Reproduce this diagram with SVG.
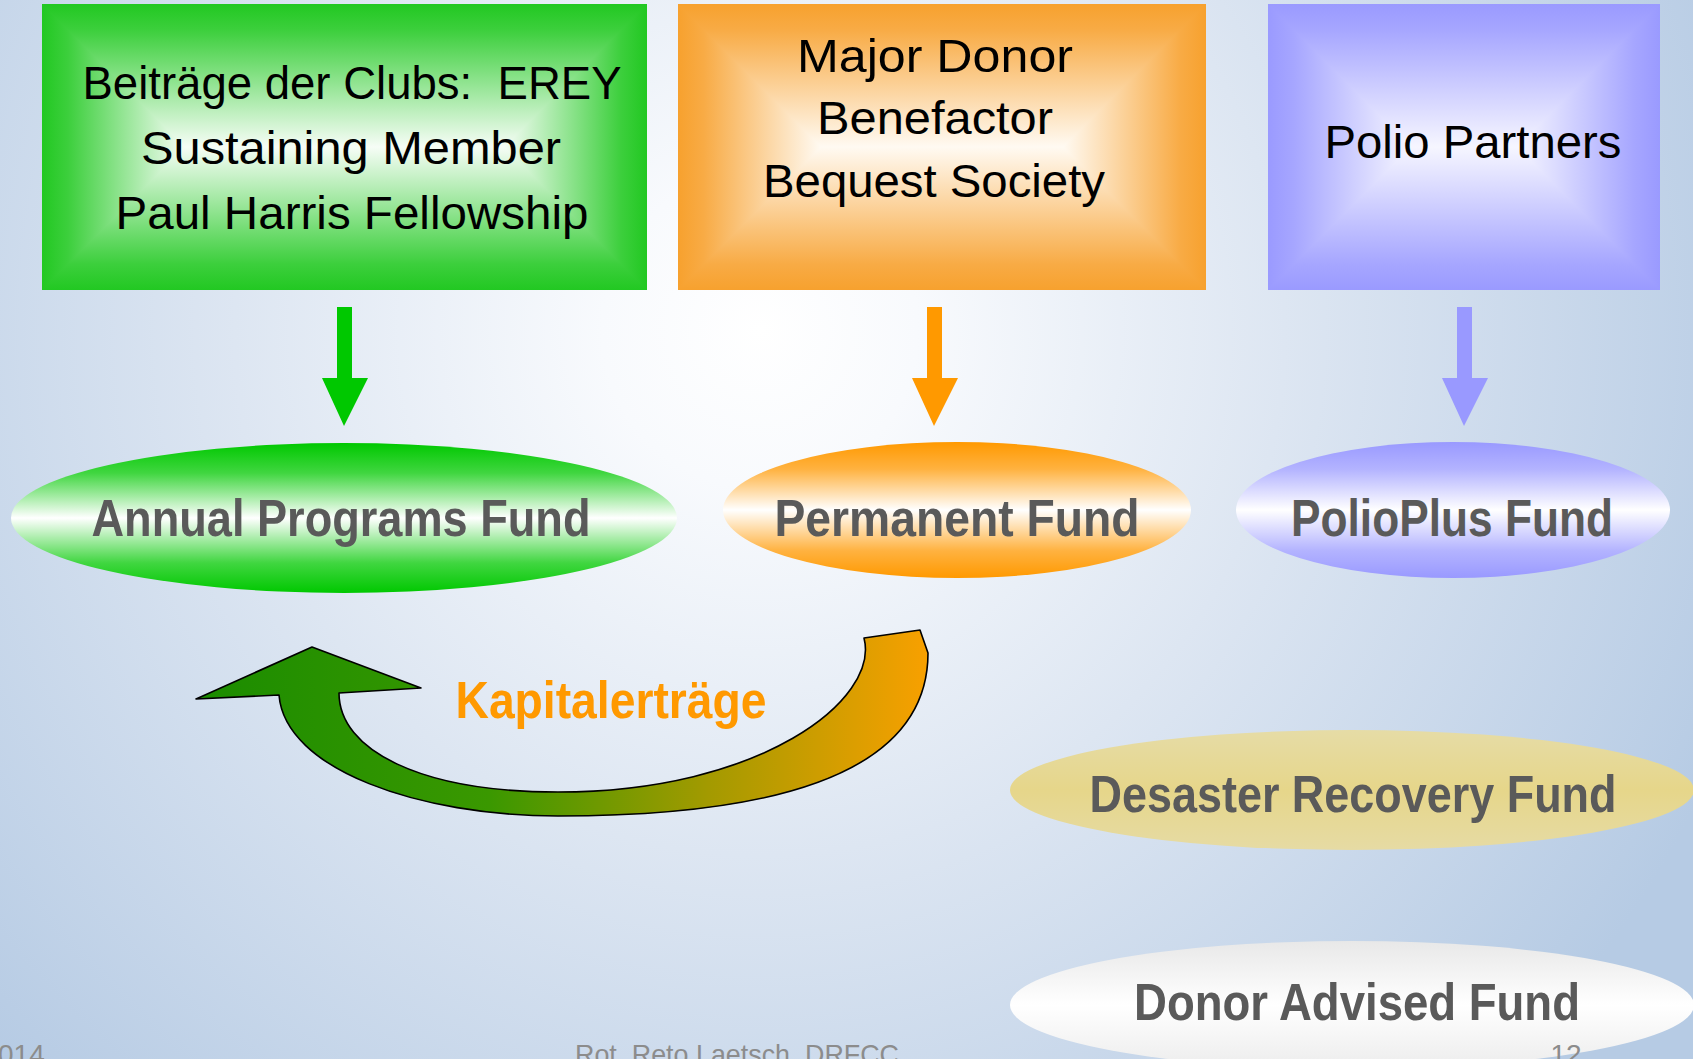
<svg xmlns="http://www.w3.org/2000/svg" xmlns:xlink="http://www.w3.org/1999/xlink" width="1693" height="1059" viewBox="0 0 1693 1059">
<defs>
<radialGradient id="bg" cx="760" cy="330" r="1050" gradientUnits="userSpaceOnUse">
<stop offset="0" stop-color="#ffffff"/>
<stop offset="0.15" stop-color="#f8fafd"/>
<stop offset="0.5" stop-color="#dde6f2"/>
<stop offset="1" stop-color="#b6cbe4"/>
</radialGradient>
<linearGradient id="sG"><stop offset="0" stop-color="#22c822"/><stop offset="0.18" stop-color="#3ccf3c"/><stop offset="1" stop-color="#f6fdf6"/></linearGradient>
<linearGradient id="sO"><stop offset="0" stop-color="#f7a12e"/><stop offset="0.18" stop-color="#f8ab45"/><stop offset="1" stop-color="#fffaf2"/></linearGradient>
<linearGradient id="sB"><stop offset="0" stop-color="#9a9aff"/><stop offset="0.18" stop-color="#a6a6ff"/><stop offset="1" stop-color="#f6f6ff"/></linearGradient>
<linearGradient id="gT" href="#sG" x1="0" y1="0" x2="0" y2="1"/>
<linearGradient id="gB" href="#sG" x1="0" y1="1" x2="0" y2="0"/>
<linearGradient id="gL" href="#sG" x1="0" y1="0" x2="1" y2="0"/>
<linearGradient id="gR" href="#sG" x1="1" y1="0" x2="0" y2="0"/>
<linearGradient id="oT" href="#sO" x1="0" y1="0" x2="0" y2="1"/>
<linearGradient id="oB" href="#sO" x1="0" y1="1" x2="0" y2="0"/>
<linearGradient id="oL" href="#sO" x1="0" y1="0" x2="1" y2="0"/>
<linearGradient id="oR" href="#sO" x1="1" y1="0" x2="0" y2="0"/>
<linearGradient id="bT" href="#sB" x1="0" y1="0" x2="0" y2="1"/>
<linearGradient id="bB" href="#sB" x1="0" y1="1" x2="0" y2="0"/>
<linearGradient id="bL" href="#sB" x1="0" y1="0" x2="1" y2="0"/>
<linearGradient id="bR" href="#sB" x1="1" y1="0" x2="0" y2="0"/>
<linearGradient id="eG" x1="0" y1="0" x2="0" y2="1">
<stop offset="0" stop-color="#00c800"/><stop offset="0.2" stop-color="#40d640"/><stop offset="0.5" stop-color="#ffffff"/><stop offset="0.8" stop-color="#40d640"/><stop offset="1" stop-color="#00c800"/>
</linearGradient>
<linearGradient id="eO" x1="0" y1="0" x2="0" y2="1">
<stop offset="0" stop-color="#ff9900"/><stop offset="0.2" stop-color="#ffb240"/><stop offset="0.5" stop-color="#ffffff"/><stop offset="0.8" stop-color="#ffb240"/><stop offset="1" stop-color="#ff9900"/>
</linearGradient>
<linearGradient id="eB" x1="0" y1="0" x2="0" y2="1">
<stop offset="0" stop-color="#9999ff"/><stop offset="0.2" stop-color="#b3b3ff"/><stop offset="0.5" stop-color="#ffffff"/><stop offset="0.8" stop-color="#b3b3ff"/><stop offset="1" stop-color="#9999ff"/>
</linearGradient>
<linearGradient id="eD" x1="0" y1="0" x2="0" y2="1">
<stop offset="0" stop-color="#e6dca6"/><stop offset="0.5" stop-color="#e6d68a"/><stop offset="1" stop-color="#e6dba4"/>
</linearGradient>
<linearGradient id="eW" x1="0" y1="0" x2="0" y2="1">
<stop offset="0" stop-color="#e8e8e8"/><stop offset="0.5" stop-color="#ffffff"/><stop offset="1" stop-color="#ececec"/>
</linearGradient>
<linearGradient id="cap" gradientUnits="userSpaceOnUse" x1="196" y1="0" x2="928" y2="0">
<stop offset="0" stop-color="#1a8c00"/><stop offset="0.4" stop-color="#3a9800"/><stop offset="0.7" stop-color="#a39a00"/><stop offset="1" stop-color="#f8a000"/>
</linearGradient>
</defs>
<style>
.bx{font-family:"Liberation Sans",Arial,sans-serif;font-size:46px;fill:#000;text-anchor:middle;white-space:pre}
.fd{font-family:"Liberation Sans",Arial,sans-serif;font-size:52px;font-weight:bold;fill:#5a5a5a;text-anchor:middle}
.ft{font-family:"Liberation Sans",Arial,sans-serif;font-size:28px;fill:#8c8c8c}
.pg polygon{shape-rendering:crispEdges}
</style>
<rect x="0" y="0" width="1693" height="1059" fill="url(#bg)"/>

<g id="box-clubs" class="pg">
<rect x="42" y="4" width="605" height="286" fill="#22c822"/>
<polygon points="42,4 647,4 504,147 185,147" fill="url(#gT)"/>
<polygon points="42,290 647,290 504,147 185,147" fill="url(#gB)"/>
<polygon points="42,4 185,147 42,290" fill="url(#gL)"/>
<polygon points="647,4 504,147 647,290" fill="url(#gR)"/>
<text class="bx" x="352" y="99" textLength="539" lengthAdjust="spacingAndGlyphs">Beiträge der Clubs:  EREY</text>
<text class="bx" x="351" y="164" textLength="420" lengthAdjust="spacingAndGlyphs">Sustaining Member</text>
<text class="bx" x="352" y="229" textLength="473" lengthAdjust="spacingAndGlyphs">Paul Harris Fellowship</text>
</g>

<g id="box-major" class="pg">
<rect x="678" y="4" width="528" height="286" fill="#f7a12e"/>
<polygon points="678,4 1206,4 1063,147 821,147" fill="url(#oT)"/>
<polygon points="678,290 1206,290 1063,147 821,147" fill="url(#oB)"/>
<polygon points="678,4 821,147 678,290" fill="url(#oL)"/>
<polygon points="1206,4 1063,147 1206,290" fill="url(#oR)"/>
<text class="bx" x="935" y="72" textLength="276" lengthAdjust="spacingAndGlyphs">Major Donor</text>
<text class="bx" x="935" y="134" textLength="236" lengthAdjust="spacingAndGlyphs">Benefactor</text>
<text class="bx" x="934" y="197" textLength="342" lengthAdjust="spacingAndGlyphs">Bequest Society</text>
</g>

<g id="box-polio" class="pg">
<rect x="1268" y="4" width="392" height="286" fill="#9a9aff"/>
<polygon points="1268,4 1660,4 1517,147 1411,147" fill="url(#bT)"/>
<polygon points="1268,290 1660,290 1517,147 1411,147" fill="url(#bB)"/>
<polygon points="1268,4 1411,147 1268,290" fill="url(#bL)"/>
<polygon points="1660,4 1517,147 1660,290" fill="url(#bR)"/>
<text class="bx" x="1473" y="158" textLength="297" lengthAdjust="spacingAndGlyphs">Polio Partners</text>
</g>

<g id="connectors">
<polygon points="337,307 352,307 352,378 368,378 344,426 322,378 337,378" fill="#00c800"/>
<polygon points="927,307 942,307 942,378 958,378 934,426 912,378 927,378" fill="#ff9900"/>
<polygon points="1457,307 1472,307 1472,378 1488,378 1464,426 1442,378 1457,378" fill="#9999ff"/>
<path d="M279,695 C285,770 420,816 558,816 C760,816 928,780 928,653 L920,630 L864,638 C880,700 760,792 558,792 C420,792 339,750 339,693 L421,688 L312,647 L196,699 Z" fill="url(#cap)" stroke="#000" stroke-width="1.6" stroke-linejoin="round"/>
<text x="611" y="718" font-family="Liberation Sans, Arial, sans-serif" font-size="52" font-weight="bold" fill="#ff9900" text-anchor="middle" textLength="311" lengthAdjust="spacingAndGlyphs">Kapitalerträge</text>
</g>

<g id="fund-annual">
<ellipse cx="344" cy="518" rx="333" ry="75" fill="url(#eG)"/>
<text class="fd" x="341" y="536" textLength="499" lengthAdjust="spacingAndGlyphs">Annual Programs Fund</text>
</g>
<g id="fund-permanent">
<ellipse cx="957" cy="510" rx="234" ry="68" fill="url(#eO)"/>
<text class="fd" x="957" y="536" textLength="365" lengthAdjust="spacingAndGlyphs">Permanent Fund</text>
</g>
<g id="fund-polioplus">
<ellipse cx="1453" cy="510" rx="217" ry="68" fill="url(#eB)"/>
<text class="fd" x="1452" y="536" textLength="322" lengthAdjust="spacingAndGlyphs">PolioPlus Fund</text>
</g>
<g id="fund-desaster">
<ellipse cx="1352" cy="790" rx="342" ry="60" fill="url(#eD)"/>
<text class="fd" x="1353" y="812" textLength="527" lengthAdjust="spacingAndGlyphs">Desaster Recovery Fund</text>
</g>
<g id="fund-donor">
<ellipse cx="1352" cy="1005" rx="342" ry="64" fill="url(#eW)"/>
<text class="fd" x="1357" y="1020" textLength="446" lengthAdjust="spacingAndGlyphs">Donor Advised Fund</text>
</g>

<g id="footer">
<text class="ft" x="-2" y="1064">014</text>
<text class="ft" x="737" y="1064" text-anchor="middle" textLength="324" lengthAdjust="spacingAndGlyphs">Rot. Reto Laetsch, DRFCC</text>
<text class="ft" x="1566" y="1064" text-anchor="middle">12</text>
</g>
</svg>
